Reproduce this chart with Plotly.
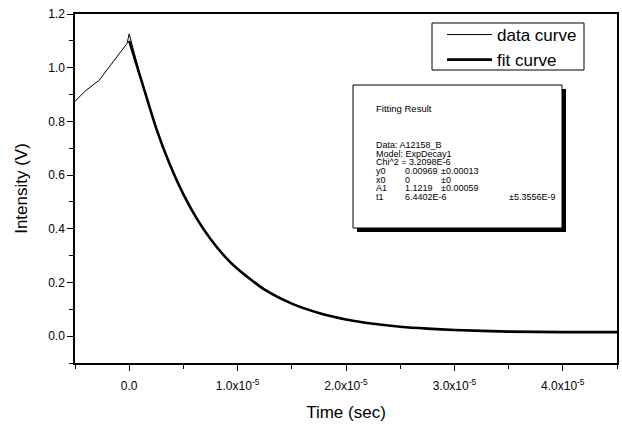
import plotly.graph_objects as go

# ---- data (time in seconds, intensity in volts) ----
data_time = [-0.5e-5, -0.4e-5, -0.28e-5, -0.15e-5, -0.02e-5, 0.0,
             0.06e-5, 0.125e-5, 0.25e-5, 0.375e-5, 0.5e-5, 0.625e-5, 0.75e-5, 0.875e-5,
             1.0e-5, 1.25e-5, 1.5e-5, 1.75e-5, 2.0e-5, 2.25e-5, 2.5e-5,
             2.75e-5, 3.0e-5, 3.5e-5, 4.0e-5, 4.5e-5]
data_intensity = [0.875, 0.915, 0.952, 1.02, 1.09, 1.126,
                  1.03, 0.936, 0.773, 0.639, 0.528, 0.437, 0.362, 0.300,
                  0.250, 0.173, 0.121, 0.086, 0.062, 0.046, 0.035,
                  0.028, 0.023, 0.017, 0.015, 0.015]

fit_time = [0.0, 0.125e-5, 0.25e-5, 0.375e-5, 0.5e-5, 0.625e-5, 0.75e-5, 0.875e-5,
            1.0e-5, 1.25e-5, 1.5e-5, 1.75e-5, 2.0e-5, 2.25e-5, 2.5e-5,
            2.75e-5, 3.0e-5, 3.5e-5, 4.0e-5, 4.5e-5]
fit_intensity = [1.10, 0.936, 0.773, 0.639, 0.528, 0.437, 0.362, 0.300,
                 0.250, 0.173, 0.121, 0.086, 0.062, 0.046, 0.035,
                 0.028, 0.023, 0.017, 0.015, 0.015]

x_tick_vals = [0.0, 1e-5, 2e-5, 3e-5, 4e-5]
x_tick_text = ["0.0", "1.0x10<sup>-5</sup>", "2.0x10<sup>-5</sup>",
               "3.0x10<sup>-5</sup>", "4.0x10<sup>-5</sup>"]
y_tick_vals = [0.0, 0.2, 0.4, 0.6, 0.8, 1.0, 1.2]
y_tick_text = ["0.0", "0.2", "0.4", "0.6", "0.8", "1.0", "1.2"]

fit_title = "Fitting Result"
fit_header = ["Data: A12158_B", "Model: ExpDecay1", "Chi^2 = 3.2098E-6"]
fit_params = ["y0", "x0", "A1", "t1"]
fit_values = ["0.00969", "0", "1.1219", "6.4402E-6"]
fit_errors = ["±0.00013", "±0", "±0.00059", "±5.3556E-9"]

# ---- layout geometry ----
W, H = 622, 425
ML, MR, MT, MB = 75, 5, 14, 62
PW, PH = W - ML - MR, H - MT - MB


def px(x):
    return (x - ML) / PW


def py(y):
    return 1 - (y - MT) / PH


FONT = "Liberation Sans, Arial, Helvetica, sans-serif"

fig = go.Figure()
fig.add_trace(go.Scatter(x=data_time, y=data_intensity, mode="lines",
                         name="data curve", line=dict(color="black", width=1)))
fig.add_trace(go.Scatter(x=fit_time, y=fit_intensity, mode="lines",
                         name="fit curve", line=dict(color="black", width=2.6, shape="spline", smoothing=0.6)))

shapes = []
# legend frame
shapes.append(dict(type="rect", xref="paper", yref="paper",
                   x0=px(432), x1=px(584), y0=py(70), y1=py(23),
                   fillcolor="white", line=dict(color="black", width=1), layer="above"))
# fitting result box with shadow
bx0, bx1, by0, by1 = 353, 562, 85, 228
shapes.append(dict(type="rect", xref="paper", yref="paper",
                   x0=px(bx0 + 4), x1=px(bx1 + 4), y0=py(by1 + 4), y1=py(by0 + 4),
                   fillcolor="black", line=dict(width=0), layer="above"))
shapes.append(dict(type="rect", xref="paper", yref="paper",
                   x0=px(bx0), x1=px(bx1), y0=py(by1), y1=py(by0),
                   fillcolor="white", line=dict(color="black", width=1), layer="above"))

annotations = []


def txt(x, y, s, size=9):
    annotations.append(dict(x=px(x), y=py(y), xref="paper", yref="paper", text=s,
                            showarrow=False, xanchor="left", yanchor="middle",
                            borderpad=0,
                            font=dict(family=FONT, size=size, color="black")))


txt(375, 108, fit_title, 9.5)
row_y = 145
for s in fit_header:
    txt(375, row_y, s)
    row_y += 8.7
for i, p in enumerate(fit_params):
    txt(375, row_y, p)
    txt(404, row_y, fit_values[i])
    txt(508 if p == "t1" else 440, row_y, fit_errors[i])
    row_y += 8.7

fig.update_layout(
    width=W, height=H,
    margin=dict(l=ML, r=MR, t=MT, b=MB, autoexpand=False),
    paper_bgcolor="white", plot_bgcolor="white",
    font=dict(family=FONT, color="black"),
    showlegend=True,
    legend=dict(x=px(442), y=py(17), xanchor="left", yanchor="top",
                bgcolor="rgba(0,0,0,0)", borderwidth=0,
                font=dict(family=FONT, size=17, color="black"),
                itemwidth=45, tracegroupgap=0),
    shapes=shapes,
    annotations=annotations,
    xaxis=dict(range=[-0.5e-5, 4.5e-5], tickvals=x_tick_vals, ticktext=x_tick_text,
               automargin=False, ticklabelstandoff=5,
               showgrid=False, zeroline=False, showline=True, linecolor="black",
               linewidth=1.5, mirror=True, ticks="outside", ticklen=6, tickwidth=1.2,
               tickcolor="black", tickfont=dict(family=FONT, size=12),
               minor=dict(ticks="outside", dtick=0.5e-5, tick0=0, ticklen=4,
                          tickwidth=1.2, tickcolor="black", showgrid=False),
               title=dict(text="Time (sec)", font=dict(family=FONT, size=17), standoff=14)),
    yaxis=dict(range=[-0.1, 1.2], tickvals=y_tick_vals, ticktext=y_tick_text,
               automargin=False,
               showgrid=False, zeroline=False, showline=True, linecolor="black",
               linewidth=1.5, mirror=True, ticks="outside", ticklen=6, tickwidth=1.2,
               tickcolor="black", tickfont=dict(family=FONT, size=12),
               minor=dict(ticks="outside", dtick=0.1, tick0=0, ticklen=4,
                          tickwidth=1.2, tickcolor="black", showgrid=False),
               title=dict(text="Intensity (V)", font=dict(family=FONT, size=17), standoff=16)),
)

fig.write_html("out.html", config={"displayModeBar": False},
               post_script="document.body.style.margin='0';")
